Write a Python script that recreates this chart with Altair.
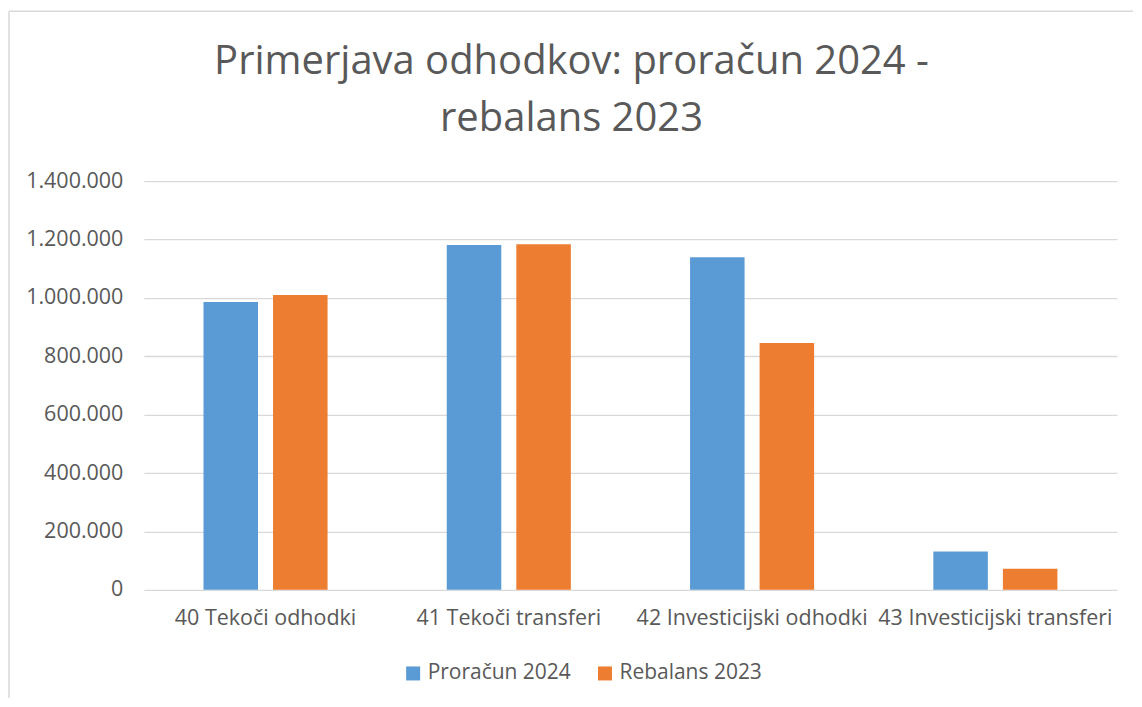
import altair as alt
import pandas as pd

categories = ["40 Tekoči odhodki", "41 Tekoči transferi", "42 Investicijski odhodki", "43 Investicijski transferi"]
series = ["Proračun 2024", "Rebalans 2023"]
proracun_2024 = [986000, 1181000, 1139000, 131000]
rebalans_2023 = [1010000, 1184000, 845500, 72000]
y_ticks = [0, 200000, 400000, 600000, 800000, 1000000, 1200000, 1400000]
colors = ["#5B9BD5", "#ED7D31"]

rows = []
for i, c in enumerate(categories):
    rows.append({"kategorija": c, "serija": series[0], "vrednost": proracun_2024[i]})
    rows.append({"kategorija": c, "serija": series[1], "vrednost": rebalans_2023[i]})
df = pd.DataFrame(rows)

FONT = "Open Sans"
GRAY = "#595959"
BORDER = "#D9D9D9"

bars = alt.Chart(df).mark_bar().encode(
    x=alt.X("kategorija:N", sort=categories, title=None,
            scale=alt.Scale(paddingInner=0.49, paddingOuter=0.245),
            axis=alt.Axis(labelAngle=0, labelFontSize=21.5, labelColor=GRAY, labelFont=FONT,
                          domain=False, ticks=False, labelPadding=18, labelLimit=0)),
    xOffset=alt.XOffset("serija:N", sort=series, scale=alt.Scale(paddingInner=0.216, paddingOuter=0)),
    y=alt.Y("vrednost:Q", title=None,
            scale=alt.Scale(domain=[0, 1400000], nice=False),
            axis=alt.Axis(values=y_ticks, labelFontSize=21.5, labelColor=GRAY, labelFont=FONT,
                          domain=False, ticks=False, labelPadding=21, gridColor=BORDER,
                          gridWidth=1.3,
                          labelExpr="replace(replace(format(datum.value, ','), ',', '.'), ',', '.')")),
    color=alt.Color("serija:N", sort=series, title=None,
                    scale=alt.Scale(domain=series, range=colors),
                    legend=alt.Legend(orient="none", legendX=259, legendY=482,
                                      direction="horizontal", symbolType="square",
                                      symbolSize=196, symbolStrokeWidth=0, labelFontSize=21,
                                      labelColor=GRAY, labelFont=FONT, columnPadding=23,
                                      labelOffset=4)),
)

frame_data = alt.Data(values=[{"k": 1}])
left_border = alt.Chart(frame_data).mark_rule(color=BORDER, strokeWidth=1.5).encode(
    x=alt.value(-135), y=alt.value(-170), y2=alt.value(517))
top_border = alt.Chart(frame_data).mark_rule(color=BORDER, strokeWidth=1.5).encode(
    x=alt.value(-135), x2=alt.value(990), y=alt.value(-170))

chart = alt.layer(left_border, top_border, bars).properties(
    width=974,
    height=409,
    title=alt.TitleParams(["Primerjava odhodkov: proračun 2024 -", "rebalans 2023"],
                          fontSize=40, font=FONT, color=GRAY, fontWeight="normal",
                          anchor="middle", lineHeight=57, offset=-129, dx=-59),
    padding={"left": 0, "top": 2, "right": 0, "bottom": 0},
).configure(background="white").configure_view(stroke=None)

chart.save("out.html", embed_options={"renderer": "svg", "actions": False})
